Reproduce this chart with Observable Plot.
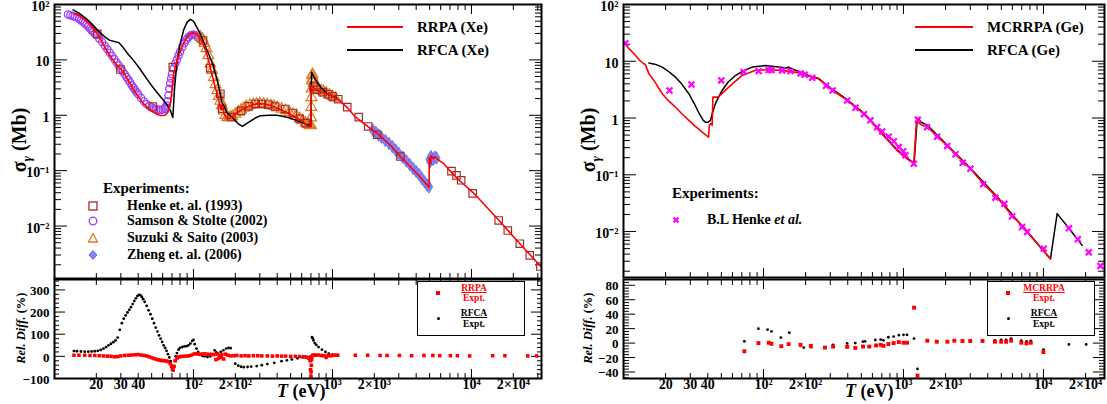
<!DOCTYPE html>
<html>
<head>
<meta charset="utf-8">
<script src="https://cdn.jsdelivr.net/npm/d3@7"></script>
<script src="https://cdn.jsdelivr.net/npm/@observablehq/plot@0.6"></script>
<style>
html,body{margin:0;padding:0;background:#fff;}
#root{position:relative;width:1107px;height:404px;overflow:hidden;font-family:"Liberation Serif","Times New Roman",serif;font-weight:bold;color:#000;}
.abs{position:absolute;white-space:nowrap;}
</style>
</head>
<body>
<div id="root"></div>
<script>
// ---------------- Xe panel data ----------------
const xeRrpaE = [14,15,16,17,18,19,20,22,24,26,28,30,32,34,37,40,43,47,51,55,58,62,65,67,69,70.6,72,74,77,80,85,90,95,100,105,110,115,120,125,130,135,140,145,150,154,156,158,160,163,165,170,175,182,190,200,218,240,265,290,320,357,400,450,500,560,620,660,700,706,740,780,820,860,900,950,1000,1080,1150,1270,1450,1790,2100,2600,3080,3600,4200,4950,4970,5100,5110,5350,5460,5800,6300,7000,8000,10400,15800,20000,25000,31600];
const xeRrpaS = [68,64,58,51,44,37,31,21,14,10.5,8.2,6.8,5.4,4.2,2.9,2.2,1.7,1.35,1.15,1.03,0.99,1.0,1.1,1.3,2.0,3.7,5.5,7.5,10.5,14,20,26,30,31,29,26,21.5,17,12.5,8.5,5.8,4.0,2.9,2.2,1.6,1.3,1.5,1.25,1.4,1.1,0.95,0.88,0.88,0.95,1.05,1.22,1.4,1.55,1.62,1.6,1.52,1.35,1.18,1.03,0.88,0.75,0.65,0.62,3.45,3.1,2.8,2.7,2.55,2.5,2.35,2.2,2.0,1.75,1.4,0.95,0.63,0.47,0.29,0.18,0.12,0.08,0.05,0.17,0.135,0.185,0.165,0.18,0.155,0.135,0.10,0.07,0.039,0.0126,0.0065,0.0035,0.00186];
const xeRfcaE = [13.6,15,17,19,21,23,25,27,29,31,34,37,41,46,51,56,61,65,68.4,71,73,76,80,85,90,95,100,105,112,120,130,140,150,160,175,195,210,225,250,280,303,350,400,446,500,560,620,680,700,706,740,776,830,915,1000,1080];
const xeRfcaS = [80,70,55,42,32,26,22.5,21.5,20.5,17,12.5,9.8,7,4.6,3.2,2.4,1.85,1.5,1.2,0.91,3.0,9,19,35,48,54,50,40,29.6,19,12,7.3,3.8,1.72,1.1,0.86,0.7,0.63,0.75,0.9,0.98,1.0,1.0,0.95,0.88,0.8,0.72,0.66,0.63,6.0,4.8,4.0,3.1,2.45,2.2,2.05];
const henkeXeE = [20.3,29.8,51,71,117,132,156,160.6,187.5,220,250,280,310,345,386,457,520,580,640,730,770,850,930,1000,1100,1277,1545,1806,2100,3080,7180,7800,8430,10200,15700,18250,22280,26250,31300];
const henkeXeS = [29.6,6.7,1.44,7.4,22.4,7.1,2.45,1.31,0.93,1.2,1.45,1.6,1.6,1.55,1.44,1.3,1.1,0.86,0.72,3.3,2.9,2.6,2.4,2.2,1.95,1.40,0.925,0.628,0.445,0.18,0.098,0.082,0.067,0.039,0.0126,0.0083,0.0048,0.00295,0.00186];
const samsonE = [12.5,13,13.5,14,14.5,15,15.5,16,16.5,17,17.5,18,18.5,19,19.5,20,21,22,23,24,25,26,27,28,29,30,31,32,33,34,35,36,37,38,39,40,42,44,46,48,50,52,54,56,58,60,62,63,64,65,66,67,68,69,70,72,74,76,78,80,83,86,89,92,95,98,101,104,107,110];
const samsonS = [66,64,62,60,58,55,52,49,46,43,40,37,34,32,30,28,24,21,18,15.5,13.5,11.8,10.3,9,7.9,7,6.2,5.5,4.9,4.4,3.9,3.5,3.15,2.85,2.6,2.4,2.05,1.8,1.6,1.47,1.38,1.32,1.28,1.26,1.25,1.27,1.3,1.38,1.5,1.8,2.3,3.0,3.8,4.6,5.5,7.0,8.6,10.2,12,14,17,20,23,25.5,27.5,28.5,28.5,27.5,26,24];
const suzukiE = [112,116,120,124,128,132,136,140,144,148,152,156,160,165,170,175,180,185,190,200,210,220,230,240,255,270,285,300,320,340,360,380,400,430,460,490,520,550,580,610,640,670,690,700,702,704,706,708,711,714,718,722,730,745,760,780,800,830,860,900,950,1000,1050];
const suzukiS = [26,24,20,16,12,8.5,6.5,4.8,3.6,2.8,2.2,1.8,1.5,1.2,1.0,0.92,0.9,0.92,0.95,1.05,1.15,1.25,1.35,1.45,1.52,1.57,1.6,1.62,1.6,1.56,1.5,1.45,1.38,1.3,1.22,1.12,1.04,0.96,0.88,0.8,0.73,0.68,0.65,0.66,0.9,1.4,2.1,3.0,4.2,5.2,5.5,4.6,3.8,3.4,3.2,3.0,2.9,2.8,2.7,2.55,2.35,2.2,2.05];
const zhengE = [1950,2050,2150,2250,2400,2550,2700,2850,3000,3200,3400,3600,3800,4000,4200,4400,4600,4800,4950,4990,5050,5110,5200,5300,5460,5600];
const zhengS = [0.54,0.49,0.44,0.40,0.35,0.31,0.27,0.235,0.205,0.175,0.15,0.128,0.11,0.097,0.085,0.072,0.063,0.055,0.051,0.16,0.145,0.18,0.165,0.16,0.175,0.17];
const xeResRfcaE = [13.8,14.5,15.5,16.5,17.5,18.5,19.5,20.5,21.5,22.5,23.5,24.5,25.5,26.5,27.5,28.5,29.5,30.5,31.5,32.5,33.5,34.5,35.5,36.5,37.5,38.5,39.5,40.5,41.5,42.5,43.5,44.5,46,47.5,49,50.5,52,53.5,55,56.5,58,59.5,61,62.5,64,65.5,67,68.5,69.5,70.5,71.5,72.5,73.5,74.5,76,78,80,83,86,89,92,95,98,100,102,105,108,112,116,120,126,132,138,142,146,150,157,164,172,179,185,200,210,220,230,245,260,285,310,340,381,430,470,510,560,610,646,690,712,720,730,745,765,794,840,890,940,1000,1050,1090];
const xeResRfcaV = [24,23,22,21,21,22,23,25,29,35,42,50,57,64,72,85,120,150,170,185,198,210,222,236,250,262,272,278,276,268,258,246,228,208,190,170,150,130,112,95,80,65,50,38,25,10,-5,-22,-40,-55,-62,-45,-20,0,15,30,38,42,45,46,50,58,70,74,55,35,20,8,2,0,-3,0,8,27,18,12,20,27,35,38,37,-33,-42,-47,-49,-48,-46,-44,-40,-35,-29,-22,-18,-14,-9,-5,-3,-1,87,82,72,60,52,42,30,20,12,8,6,5];
const xeResRrpaE = [13.8,15,16.5,18,19.5,21,22.5,24,25.5,27,28.5,30,32,34,36,38,40,42,44,46,48,50,52,54,56,58,60,62,64,66,68,69.5,70.5,71.5,72.5,74,76,78,80,84,88,92,96,100,104,108,112,116,120,125,130,135,140,145,148,151,154,158,160,165,170,177,185,195,205,220,235,250,270,290,310,340,370,400,430,460,500,540,580,620,650,675,690,695,698,700,702,704,708,712,720,740,760,790,830,870,900,930,960,1000,1040,1090,1460,1790,2200,2470,3030,3710,4550,5270,5920,7050,7920,9710,14200,17400,25400,29400];
const xeResRrpaV = [5,5,5,4,4,3,2,1,0,-2,-1,2,4,5,6,7,8,6,4,2,-2,-6,-10,-13,-16,-18,-19,-20,-21,-24,-32,-45,-58,-62,-45,-20,-8,-3,-1,0,1,2,5,10,12,10,9,10,11,10,8,9,8,-15,10,-10,4,-5,8,-12,10,5,2,3,4,2,3,2,3,3,2,2,1,2,1,1,0,0,-1,-2,-4,-8,-20,-60,-100,-90,-70,-40,-15,0,5,6,5,6,4,3,-5,4,3,4,5,5,5,5,4,4,4,3,4,4,3,3,3,2,3,3,2,2];

// ---------------- Ge panel data ----------------
const geMcE = [10,11,12.2,13,13.6,14,14.3,15.2,16.5,18.9,21,23.5,26,29.3,32,36.5,39.6,40.5,41,42,43,43.5,47,48,56.5,70,87,109,136,169,190,196,199,247,308,396,522,684,897,1050,1185,1240,1300,1400,1420,1476,1740,2051,2350,3010,3710,4670,5970,7230,9000,11220];
const geMcS = [21.7,16.5,12.6,10.5,9.5,9.0,8.8,6.0,4.6,2.68,2.0,1.56,1.2,0.91,0.74,0.565,0.48,0.46,0.74,0.8,0.75,2.33,2.33,2.4,3.5,5.6,6.9,7.1,6.9,6.4,6.0,6.3,5.6,4.9,3.15,2.04,1.19,0.56,0.27,0.195,0.157,0.9,0.8,0.72,0.76,0.72,0.47,0.33,0.23,0.128,0.07,0.040,0.019,0.012,0.0063,0.0033];
const geRfE = [15.2,17,18.9,21,23.5,26,29.3,32,34.8,37,38.5,40,41.8,43.5,45.3,50.6,56,63,72,83,103,128,145,151,160,210,247,308,396,522,684,897,1050,1190,1255,1270,1330,1476,2051,3010,4670,7230,11220,12530,15600,18900];
const geRfS = [9.3,8.8,7.9,6.6,5.25,4.0,2.68,1.8,1.19,0.92,0.84,0.84,0.91,1.3,1.79,3.06,4.3,5.6,6.8,7.9,8.4,7.9,7.6,7.9,7.3,5.6,5.0,3.25,2.1,1.22,0.58,0.28,0.2,0.16,0.98,1.0,0.85,0.75,0.335,0.13,0.041,0.0115,0.0033,0.0207,0.0105,0.0057];
const henkeGeE = [10.3,21.3,30.6,49.9,72.2,92.4,109,114,136,156,184,197,223,280,312,396,454,522,581,649,705,785,853,925,995,1033,1185,1265,1476,1740,2051,2350,2650,3010,3710,4540,5260,5970,7040,7650,10050,15200,17600,21100,25500];
const henkeGeS = [20.8,3.06,3.9,4.6,6.5,6.7,7.0,7.0,6.9,6.7,6.1,5.8,5.1,3.7,3.06,2.04,1.52,1.17,0.91,0.69,0.58,0.47,0.39,0.31,0.26,0.22,0.157,0.93,0.69,0.47,0.32,0.23,0.163,0.128,0.068,0.0395,0.031,0.0185,0.012,0.0098,0.005,0.0114,0.0073,0.0043,0.00247];
const geResMcE = [73,92,109,114,134,151,184,218,275,314,396,453,514,570,637,687,719,780,851,927,1000,1060,1190,1260,1480,1730,2060,2310,2640,3000,3670,4500,4990,5410,5870,6950,7570,8120,10000];
const geResMcV = [-11.4,0,0.5,-1,-4.3,-1.4,-2.4,-3.8,-6.2,-4.8,-5.2,-6.7,-4.8,-4.8,-3.3,-2.4,-3.8,-1.4,0,1.4,0.5,0.5,49,-45,3.3,1.9,1.9,3.3,2.9,2.9,2.9,1.9,1.9,1.9,3.3,0.5,-0.5,0.5,-12.4];
const geResRfE = [73,92,107,114,133,153,184,194,219,275,314,396,453,514,532,630,687,719,780,851,927,1000,1060,1190,1260,1480,1730,2060,2310,2640,3000,3670,4500,4990,5410,5870,6950,7570,8120,10000,15200,20200];
const geResRfV = [2.4,20,18.6,16.2,7.6,14.3,-3.3,-6.2,-5.7,-6.2,-2.4,-0.5,0,1.9,2.4,4.3,4.8,3.8,8.1,9.0,11,11.4,11.4,6.2,-35.7,3.8,2.4,2.4,3.8,3.8,3.8,3.8,3.8,4.3,4.3,6.2,3.3,2.4,2.9,-9,-1.9,-1.9];

// ---------------- tick labels ----------------
const xLabelValues = [20,30,40,100,200,1000,2000,10000,20000];
const xLabelTexts = ["20","30","40","10\u00b2","2\u00d710\u00b2","10\u00b3","2\u00d710\u00b3","10\u2074","2\u00d710\u2074"];
const yLogLabelValues = [100,10,1,0.1,0.01];
const yLogLabelTexts = ["10\u00b2","10","1","10\u207b\u00b9","10\u207b\u00b2"];
const xeResLabelValues = [-100,0,100,200,300];
const xeResLabelTexts = ["\u2212100","0","100","200","300"];
const geResLabelValues = [-40,-20,0,20,40,60,80];
const geResLabelTexts = ["\u221240","\u221220","0","20","40","60","80"];

// ---------------- helpers ----------------
const root = document.getElementById("root");
const rows = (e, v) => e.map((x, i) => ({e: x, v: v[i]}));
function logMajor(lo, hi) { const o = []; for (let p = -4; p <= 5; p++) { const t = 10 ** p; if (t >= lo && t <= hi) o.push(t); } return o; }
function logMinor(lo, hi) { const o = []; for (let p = -4; p <= 5; p++) for (let k = 2; k <= 9; k++) { const t = k * 10 ** p; if (t >= lo && t <= hi) o.push(t); } return o; }
function linTicks(lo, hi, step, skip) { const o = []; for (let t = Math.ceil(lo / step) * step; t <= hi + 1e-9; t += step) if (!skip || Math.abs(t % skip) > 1e-9) o.push(t); return o; }

function inX(vals, len) {
  return [
    Plot.axisX(vals, {anchor: "top", tickSize: len, dy: len, tickFormat: () => "", label: null}),
    Plot.axisX(vals, {anchor: "bottom", tickSize: len, dy: -len, tickFormat: () => "", label: null})
  ];
}
function inY(vals, len) {
  return [
    Plot.axisY(vals, {anchor: "left", tickSize: len, dx: len, tickFormat: () => "", label: null}),
    Plot.axisY(vals, {anchor: "right", tickSize: len, dx: -len, tickFormat: () => "", label: null})
  ];
}
function xLabels() {
  return Plot.text(xLabelValues, {x: d => d, text: (d, i) => xLabelTexts[i], frameAnchor: "bottom", dy: 10, fontSize: 14, fontWeight: "bold"});
}
function yLabels(vals, texts, size, dy = 1) {
  return Plot.text(vals, {y: d => d, text: (d, i) => texts[i], frameAnchor: "left", textAnchor: "end", dx: -5, dy, fontSize: size, fontWeight: "bold"});
}
const baseStyle = {background: "transparent", fontFamily: '"Liberation Serif", "Times New Roman", serif', fontSize: "14px", fontWeight: "bold", color: "#000", overflow: "visible"};
function chart({left, top, width, height, mT, mR, mB, mL, xDom, yDom, yType, marks}) {
  const svg = Plot.plot({
    width, height, marginTop: mT, marginRight: mR, marginBottom: mB, marginLeft: mL,
    x: {type: "log", domain: xDom}, y: {type: yType, domain: yDom},
    style: baseStyle, marks
  });
  svg.style.position = "absolute"; svg.style.left = left + "px"; svg.style.top = top + "px";
  root.appendChild(svg);
}
function put(html, left, top, css = "") {
  const d = document.createElement("div"); d.className = "abs";
  d.style.cssText = `left:${left}px;top:${top}px;${css}`; d.innerHTML = html; root.appendChild(d); return d;
}
function rot(html, cx, cy, size, w = 160) {
  put(html, cx - w / 2, cy - size * 0.65, `width:${w}px;height:${size * 1.3}px;line-height:${size * 1.3}px;text-align:center;font-size:${size}px;transform:rotate(-90deg);`);
}
function textAt(html, left, cy, size, css = "") { put(html, left, cy - size * 0.6, `font-size:${size}px;line-height:${size * 1.2}px;${css}`); }
function frac(num, cx, cy, color) {
  put(`<div style="text-decoration:underline;color:${color}">${num}</div><div style="color:${color}">Expt.</div>`, cx - 35, cy - 11, "width:70px;text-align:center;font-size:9.5px;line-height:10.5px;");
}
const sym = {
  square: c => `<svg width="12" height="12"><rect x="2" y="2" width="8" height="8" fill="none" stroke="${c}" stroke-width="1.3"/></svg>`,
  circle: c => `<svg width="12" height="12"><circle cx="6" cy="6" r="3.8" fill="none" stroke="${c}" stroke-width="1.3"/></svg>`,
  triangle: c => `<svg width="12" height="12"><path d="M6 1.5 L10.5 10 L1.5 10 Z" fill="none" stroke="${c}" stroke-width="1.3"/></svg>`,
  diamond: c => `<svg width="12" height="12"><path d="M6 1.5 L10 6 L6 10.5 L2 6 Z" fill="${c}" stroke="#6a6ae0" stroke-width="1"/></svg>`,
  times: c => `<svg width="12" height="12"><path d="M3.5 3.5 L8.5 8.5 M8.5 3.5 L3.5 8.5" stroke="${c}" stroke-width="2.3"/></svg>`
};
const C = {henke: "#a52a2a", samson: "#a040f0", suzuki: "#e07b20", zheng: "#8585f8", ge: "#ff00ff"};

// ================= LEFT PANEL (Xe) =================
const xeX = [10, 31900];
chart({
  left: 0, top: 0, width: 553, height: 280, mT: 4, mR: 12, mB: 2, mL: 54,
  xDom: xeX, yDom: [0.00113, 100], yType: "log",
  marks: [
    ...inX(logMajor(...xeX), 9), ...inX(logMinor(...xeX), 5),
    ...inY(logMajor(0.00113, 100), 13), ...inY(logMinor(0.00113, 100), 7),
    yLabels(yLogLabelValues, yLogLabelTexts, 14, 2),
    Plot.dot(rows(samsonE, samsonS), {x: "e", y: "v", symbol: "circle", r: 3.6, stroke: C.samson, strokeWidth: 1.3, fill: "none", clip: true}),
    Plot.dot(rows(suzukiE, suzukiS), {x: "e", y: "v", symbol: "triangle", r: 4, stroke: C.suzuki, strokeWidth: 1.2, fill: "none", clip: true}),
    Plot.dot(rows(zhengE, zhengS), {x: "e", y: "v", symbol: "diamond", r: 3.8, stroke: "#6a6ae0", strokeWidth: 0.8, fill: C.zheng, clip: true}),
    Plot.dot(rows(henkeXeE, henkeXeS), {x: "e", y: "v", symbol: "square", r: 4.2, stroke: C.henke, strokeWidth: 1.2, fill: "none", clip: true}),
    Plot.line(rows(xeRfcaE, xeRfcaS), {x: "e", y: "v", stroke: "#000", strokeWidth: 1.5, clip: true}),
    Plot.line(rows(xeRrpaE, xeRrpaS), {x: "e", y: "v", stroke: "#ff0000", strokeWidth: 1.6, clip: true}),
    Plot.frame({strokeWidth: 2})
  ]
});
chart({
  left: 0, top: 270, width: 553, height: 134, mT: 9, mR: 12, mB: 26, mL: 54,
  xDom: xeX, yDom: [-100, 347], yType: "linear",
  marks: [
    ...inX(logMajor(...xeX), 9), ...inX(logMinor(...xeX), 5),
    ...inY(linTicks(-100, 347, 100), 11), ...inY(linTicks(-100, 347, 20, 100), 5),
    yLabels(xeResLabelValues, xeResLabelTexts, 13),
    xLabels(),
    Plot.dot(rows(xeResRfcaE, xeResRfcaV), {x: "e", y: "v", r: 1.4, fill: "#000", clip: true}),
    Plot.dot(rows(xeResRrpaE, xeResRrpaV), {x: "e", y: "v", symbol: "square", r: 2, fill: "#ff0000", clip: true}),
    Plot.frame({strokeWidth: 2})
  ]
});

// ================= RIGHT PANEL (Ge) =================
const geX = [10, 27300];
chart({
  left: 570, top: 0, width: 537, height: 280, mT: 4, mR: 3, mB: 3, mL: 53,
  xDom: geX, yDom: [0.00155, 100], yType: "log",
  marks: [
    ...inX(logMajor(...geX), 9), ...inX(logMinor(...geX), 5),
    ...inY(logMajor(0.00155, 100), 13), ...inY(logMinor(0.00155, 100), 7),
    yLabels(yLogLabelValues, yLogLabelTexts, 14, 2),
    Plot.line(rows(geRfE, geRfS), {x: "e", y: "v", stroke: "#000", strokeWidth: 1.5, clip: true}),
    Plot.line(rows(geMcE, geMcS), {x: "e", y: "v", stroke: "#ff0000", strokeWidth: 1.6, clip: true}),
    Plot.dot(rows(henkeGeE, henkeGeS), {x: "e", y: "v", symbol: "times", r: 2.8, stroke: C.ge, strokeWidth: 2.2, clip: true}),
    Plot.frame({strokeWidth: 2})
  ]
});
chart({
  left: 570, top: 270, width: 537, height: 134, mT: 9, mR: 3, mB: 26, mL: 53,
  xDom: geX, yDom: [-49, 88], yType: "linear",
  marks: [
    ...inX(logMajor(...geX), 9), ...inX(logMinor(...geX), 5),
    ...inY(linTicks(-49, 88, 20), 12), ...inY(linTicks(-49, 88, 4, 20), 6),
    yLabels(geResLabelValues, geResLabelTexts, 13),
    xLabels(),
    Plot.dot(rows(geResRfE, geResRfV), {x: "e", y: "v", r: 1.4, fill: "#000", clip: true}),
    Plot.dot(rows(geResMcE, geResMcV), {x: "e", y: "v", symbol: "square", r: 2.2, fill: "#ff0000", clip: true}),
    Plot.frame({strokeWidth: 2})
  ]
});

// ================= titles & legends =================
const sigmaHtml = `σ<span style="font-size:13px;font-style:italic;position:relative;top:5px">γ</span>&nbsp;(Mb)`;
rot(sigmaHtml, 19, 140, 20);
rot(sigmaHtml, 588, 140, 20);
rot(`<i>Rel. Diff.</i>&nbsp;(%)`, 21, 328, 12.5);
rot(`<i>Rel. Diff.</i>&nbsp;(%)`, 588, 328, 12.5);
textAt(`<i>T</i> (eV)`, 277, 392, 18);
textAt(`<i>T</i> (eV)`, 845, 392, 18);

// series legends
put("", 347, 26, "width:56px;height:2px;background:#ff0000;");
put("", 347, 49, "width:56px;height:2px;background:#000;");
textAt("RRPA (Xe)", 417, 27, 15);
textAt("RFCA (Xe)", 417, 50, 15);
put("", 915, 26, "width:58px;height:2px;background:#ff0000;");
put("", 915, 49, "width:58px;height:2px;background:#000;");
textAt("MCRRPA (Ge)", 987, 27, 15);
textAt("RFCA (Ge)", 987, 50, 15);

// experiments legend (Xe)
textAt("Experiments:", 103, 188, 15);
const xeLeg = [[sym.square(C.henke), "Henke et. al. (1993)", 206], [sym.circle(C.samson), "Samson &amp; Stolte (2002)", 221], [sym.triangle(C.suzuki), "Suzuki &amp; Saito (2003)", 238], [sym.diamond(C.zheng), "Zheng et. al. (2006)", 255]];
for (const [s, t, cy] of xeLeg) { put(s, 87, cy - 6, "width:12px;height:12px;line-height:0;"); textAt(t, 127, cy, 14); }
// experiments legend (Ge)
textAt("Experiments:", 672, 193, 15);
put(sym.times(C.ge), 670, 214, "width:12px;height:12px;line-height:0;");
textAt(`B.L Henke <i>et al.</i>`, 707, 220, 14);

// residual legends
for (const [bx, num] of [[417, "RRPA"], [987, "MCRRPA"]]) {
  put("", bx, 281, "width:108px;height:55px;border:1.5px solid #000;box-sizing:border-box;background:#fff;");
  put("", bx + 19, 291, "width:4px;height:4px;background:#ff0000;");
  frac(num, bx + 57, 293.5, "#ff0000");
  put("", bx + 20, 317, "width:3px;height:3px;border-radius:50%;background:#000;");
  frac("RFCA", bx + 57, 319, "#000");
}
</script>
</body>
</html>
